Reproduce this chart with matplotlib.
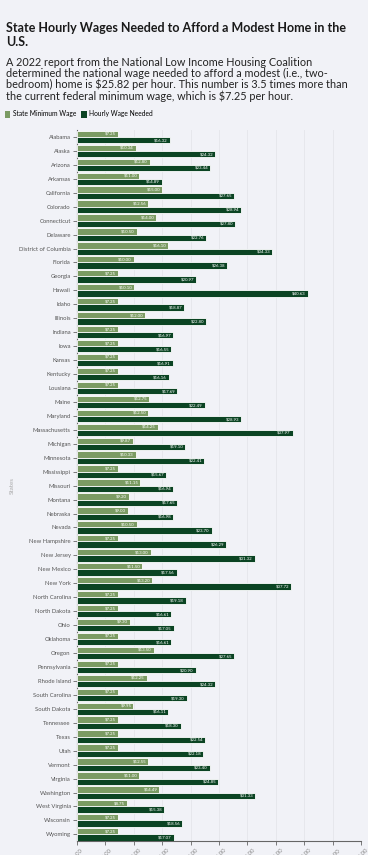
import matplotlib
matplotlib.use("Agg")
import matplotlib.pyplot as plt
import numpy as np
from matplotlib.patches import Patch

states = ["Alabama", "Alaska", "Arizona", "Arkansas", "California", "Colorado", "Connecticut",
          "Delaware", "District of Columbia", "Florida", "Georgia", "Hawaii", "Idaho", "Illinois",
          "Indiana", "Iowa", "Kansas", "Kentucky", "Lousiana", "Maine", "Maryland", "Massachusetts",
          "Michigan", "Minnesota", "Mississippi", "Missouri", "Montana", "Nebraska", "Nevada",
          "New Hampshire", "New Jersey", "New Mexico", "New York", "North Carolina", "North Dakota",
          "Ohio", "Oklahoma", "Oregon", "Pennsylvania", "Rhode Island", "South Carolina",
          "South Dakota", "Tennessee", "Texas", "Utah", "Vermont", "Virginia", "Washington",
          "West Virginia", "Wisconsin", "Wyoming"]
min_wage = [7.25, 10.34, 12.80, 11.00, 15.00, 12.56, 14.00, 10.50, 16.10, 10.00, 7.25, 10.10,
            7.25, 12.00, 7.25, 7.25, 7.25, 7.25, 7.25, 12.75, 12.50, 14.25, 9.87, 10.33, 7.25,
            11.15, 9.20, 9.00, 10.50, 7.25, 13.00, 11.50, 13.20, 7.25, 7.25, 9.30, 7.25, 13.50,
            7.25, 12.25, 7.25, 9.95, 7.25, 7.25, 7.25, 12.55, 11.00, 14.49, 8.75, 7.25, 7.25]
needed = [16.32, 24.32, 23.44, 14.89, 27.65, 28.94, 27.80, 22.76, 34.33, 26.38, 20.97, 40.63,
          18.87, 22.80, 16.97, 16.55, 16.91, 16.16, 17.69, 22.49, 28.93, 37.97, 19.10, 22.41,
          15.67, 16.94, 17.65, 16.98, 23.70, 26.29, 31.32, 17.56, 37.72, 19.18, 16.61, 17.05,
          16.61, 27.65, 20.90, 24.32, 19.30, 16.11, 18.30, 22.54, 22.18, 23.40, 24.85, 31.33,
          15.38, 18.56, 17.07]
x_ticks = [0, 5, 10, 15, 20, 25, 30, 35, 40, 45, 50]
series_names = ["State Minimum Wage", "Hourly Wage Needed"]

bg = "#f1f2f7"
c_light = "#7b9b63"
c_dark = "#0b4423"
font = ["Lato", "DejaVu Sans"]
plt.rcParams["font.family"] = font

fig = plt.figure(figsize=(3.68, 8.55), dpi=100, facecolor=bg)
ax = fig.add_axes([0.209, 0.016, 0.772, 0.832], facecolor=bg)

n = len(states)
y = np.arange(n)
h = 0.45
ax.barh(y - h / 2, min_wage, height=h, color=c_light, edgecolor="white", linewidth=0.6, zorder=3)
ax.barh(y + h / 2, needed, height=h, color=c_dark, edgecolor="white", linewidth=0.6, zorder=3)

for yi, v in zip(y, min_wage):
    ax.text(v - 0.35, yi - h / 2, f"${v:.2f}", ha="right", va="center", fontsize=3.2,
            color="white", zorder=4)
for yi, v in zip(y, needed):
    ax.text(v - 0.35, yi + h / 2, f"${v:.2f}", ha="right", va="center", fontsize=3.2,
            color="white", zorder=4)

ax.set_ylim(n - 0.5, -0.5)
ax.set_xlim(0, 50)
ax.set_yticks(y)
ax.set_yticklabels(states, fontsize=4.2, color="#555555")
ax.set_xticks(x_ticks)
ax.set_xticklabels([f"${t:.2f}" for t in x_ticks], rotation=45, ha="center", fontsize=4.3,
                   color="#888888")
ax.tick_params(axis="y", length=3, width=0.6, color="#666666", pad=1.5)
ax.tick_params(axis="x", length=3, width=0.6, color="#666666", pad=1)
ax.grid(axis="x", color="#e4e5ea", linewidth=0.6, zorder=0)
for s in ["top", "right"]:
    ax.spines[s].set_visible(False)
for s in ["left", "bottom"]:
    ax.spines[s].set_color("#666666")
    ax.spines[s].set_linewidth(0.8)
ax.set_ylabel("States", fontsize=4.5, color="#aaaaaa")
ax.yaxis.set_label_coords(-0.22, 0.5)

fig.text(0.016, 0.974, "State Hourly Wages Needed to Afford a Modest Home in the\nU.S.",
         fontsize=9.0, fontweight="bold", color="#1a1a1a", va="top", linespacing=1.2)
fig.text(0.016, 0.933,
         "A 2022 report from the National Low Income Housing Coalition\n"
         "determined the national wage needed to afford a modest (i.e., two-\n"
         "bedroom) home is $25.82 per hour. This number is 3.5 times more than\n"
         "the current federal minimum wage, which is $7.25 per hour.",
         fontsize=7.85, color="#222222", va="top", linespacing=0.98)

handles = [Patch(facecolor=c_light, edgecolor="none"), Patch(facecolor=c_dark, edgecolor="none")]
fig.legend(handles, series_names, loc="upper left", bbox_to_anchor=(0.005, 0.874), ncol=2,
           frameon=False, fontsize=4.8, handlelength=0.8, handleheight=1.3, handletextpad=0.4,
           columnspacing=0.8, borderaxespad=0)

fig.savefig("out.png", dpi=100, facecolor=bg)
